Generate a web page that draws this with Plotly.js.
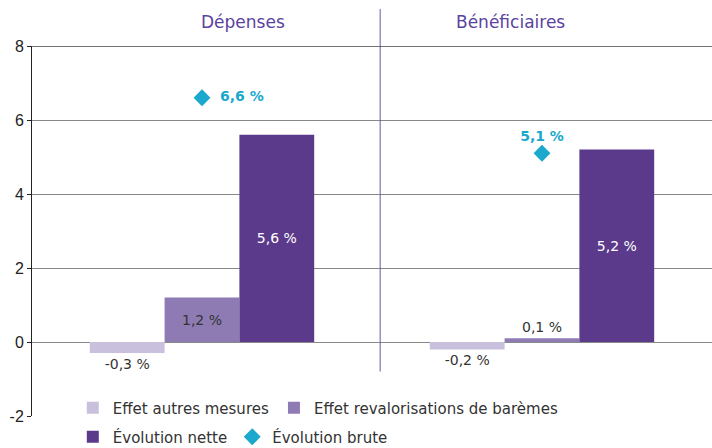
<!DOCTYPE html>
<html><head><meta charset="utf-8">
<script src="https://cdn.plot.ly/plotly-3.0.1.min.js"></script>
<style>html,body{margin:0;padding:0;background:#fff}#c{width:712px;height:448px}</style>
</head><body><div id="c"></div>
<script>
const categories = ["Dépenses", "Bénéficiaires"];
const autresMesures = [-0.3, -0.2];
const revalorisations = [1.2, 0.1];
const evolutionNette = [5.6, 5.2];
const evolutionBrute = [6.6, 5.1];
const yTicks = [-2, 0, 2, 4, 6, 8];

const F = "'DejaVu Sans', sans-serif";
const data = [
  {type:'bar', name:'Effet autres mesures', x:categories, y:autresMesures, legend:'legend',
   marker:{color:'#c9c0de'}, texttemplate:'%{y:.1f} %', textposition:'outside',
   textfont:{color:'#333', size:14, family:F}, cliponaxis:false},
  {type:'bar', name:'Effet revalorisations de barèmes', x:categories, y:revalorisations, legend:'legend',
   marker:{color:'#8e7bb4'}, texttemplate:'%{y:.1f} %', textposition:['inside','outside'],
   insidetextanchor:'middle', insidetextfont:{color:'#333', size:14, family:F},
   outsidetextfont:{color:'#333', size:14, family:F}, cliponaxis:false},
  {type:'bar', name:'Évolution nette', x:categories, y:evolutionNette, legend:'legend2',
   marker:{color:'#5b3a8b'}, texttemplate:'%{y:.1f} %', textposition:'inside',
   insidetextanchor:'middle', insidetextfont:{color:'#fff', size:14, family:F}},
  {type:'scatter', mode:'markers+text', name:'Évolution brute', x:categories, y:evolutionBrute, legend:'legend2',
   marker:{symbol:'diamond', size:13, color:'#1aa8cc'},
   texttemplate:['\u00a0\u00a0<b>%{y:.1f} %</b>', '<b>%{y:.1f} %</b>'], textposition:['middle right','top center'],
   textfont:{color:'#1aa8cc', size:14, family:F}, cliponaxis:false}
];
const legendBase = {orientation:'h', xanchor:'left', yanchor:'middle', yref:'container', xref:'paper',
  bgcolor:'rgba(255,255,255,0)', font:{size:15, color:'#333', family:F}, traceorder:'normal', itemwidth:30};
const layout = {
  width:712, height:448, margin:{l:32, r:0, t:46, b:32, autoexpand:false},
  paper_bgcolor:'#fff', plot_bgcolor:'#fff', separators:', ',
  barmode:'group', bargap:0.34, bargroupgap:0,
  font:{family:F, color:'#333', size:15},
  showlegend:true,
  legend:Object.assign({}, legendBase, {x:0.06, y:1 - 408/448}),
  legend2:Object.assign({}, legendBase, {x:0.06, y:1 - 437/448}),
  xaxis:{showticklabels:false, showline:true, linecolor:'#fff', linewidth:1, showgrid:false, zeroline:false, ticks:''},
  yaxis:{range:[-2,8], tickvals:yTicks, ticktext:yTicks.map(String),
         showline:true, linecolor:'#222', linewidth:1, ticks:'outside', ticklen:4, tickcolor:'#222',
         showgrid:true, gridcolor:'#888', gridwidth:1, zeroline:true, zerolinecolor:'#888', zerolinewidth:1,
         tickfont:{family:"'Liberation Sans', Arial, sans-serif", size:16, color:'#222'}},
  shapes:[
    {type:'line', xref:'paper', yref:'paper', x0:0.512, x1:0.512, y0:0.12, y1:1.1, line:{color:'#6a55a8', width:1}},
    {type:'line', xref:'paper', yref:'y', x0:0, x1:1, y0:8, y1:8, line:{color:'#444', width:1.5}}
  ],
  annotations:[
    {text:'Dépenses', xref:'paper', yref:'paper', x:0.245, y:1.065, showarrow:false, yanchor:'middle',
     font:{family:F, size:17, color:'#5a42a0'}},
    {text:'Bénéficiaires', xref:'paper', yref:'paper', x:0.787, y:1.065, showarrow:false, yanchor:'middle',
     font:{family:F, size:17, color:'#5a42a0'}}
  ]
};
Plotly.newPlot('c', data, layout, {displayModeBar:false, staticPlot:true});
</script></body></html>
